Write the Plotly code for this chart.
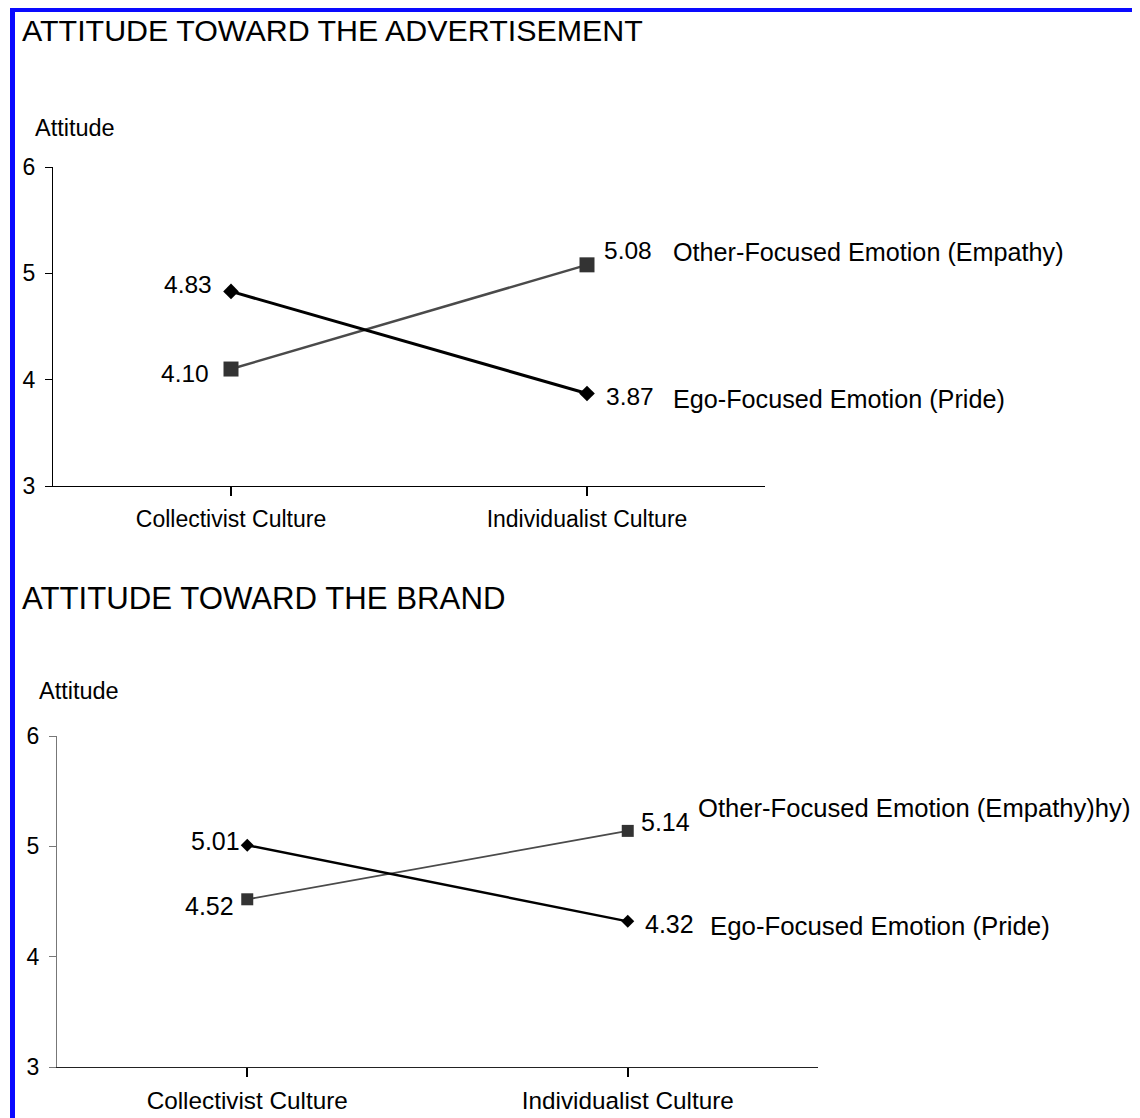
import plotly.graph_objects as go

# ---------------- data ----------------
categories = ["Collectivist Culture", "Individualist Culture"]
ad_other = [4.10, 5.08]     # Other-Focused Emotion (Empathy)
ad_ego = [4.83, 3.87]       # Ego-Focused Emotion (Pride)
brand_other = [4.52, 5.14]
brand_ego = [5.01, 4.32]
ad_other_name = "Other-Focused Emotion (Empathy)"
ad_ego_name = "Ego-Focused Emotion (Pride)"
brand_other_name = "Other-Focused Emotion (Empathy)hy)"
brand_ego_name = "Ego-Focused Emotion (Pride)"
titles = ["ATTITUDE TOWARD THE ADVERTISEMENT", "ATTITUDE TOWARD THE BRAND"]
y_title = "Attitude"
y_ticks = [3, 4, 5, 6]

W, H = 1140, 1118
OFF = 8  # page body margin
FONT = "Liberation Sans, Arial, sans-serif"
xs = list(range(len(categories)))

def px(x):
    return (x - OFF) / W

def py(y):
    return 1 - (y - OFF) / H

fig = go.Figure()

fig.add_trace(go.Scatter(x=xs, y=ad_other, mode="lines+markers", xaxis="x", yaxis="y",
                         line=dict(color="#4a4a4a", width=2.5),
                         marker=dict(symbol="square", size=15, color="#333333"),
                         showlegend=False, hoverinfo="skip"))
fig.add_trace(go.Scatter(x=xs, y=ad_ego, mode="lines+markers", xaxis="x", yaxis="y",
                         line=dict(color="black", width=3),
                         marker=dict(symbol="diamond", size=12, color="black"),
                         showlegend=False, hoverinfo="skip"))
fig.add_trace(go.Scatter(x=xs, y=brand_other, mode="lines+markers", xaxis="x2", yaxis="y2",
                         line=dict(color="#4a4a4a", width=1.8),
                         marker=dict(symbol="square", size=12, color="#333333"),
                         showlegend=False, hoverinfo="skip"))
fig.add_trace(go.Scatter(x=xs, y=brand_ego, mode="lines+markers", xaxis="x2", yaxis="y2",
                         line=dict(color="black", width=2.5),
                         marker=dict(symbol="diamond", size=10, color="black"),
                         showlegend=False, hoverinfo="skip"))

annotations = []

def lab(text, x, y, xa, ya, xshift, yshift, size=25):
    annotations.append(dict(text=text, x=x, y=y, xref=xa, yref=ya, showarrow=False,
                            xanchor="left" if xshift > 0 else "right", yanchor="middle",
                            xshift=xshift, yshift=yshift,
                            font=dict(family=FONT, size=size, color="black")))

# top panel labels
lab(f"{ad_ego[0]:.2f}", xs[0], ad_ego[0], "x", "y", -17, 7, 24.5)
lab(f"{ad_other[0]:.2f}", xs[0], ad_other[0], "x", "y", -20, -4, 24.5)
lab(f"{ad_other[1]:.2f}", xs[1], ad_other[1], "x", "y", 15, 14, 24.5)
lab(ad_other_name, xs[1], ad_other[1], "x", "y", 84, 13, 25.2)
lab(f"{ad_ego[1]:.2f}", xs[1], ad_ego[1], "x", "y", 17, -3, 24.5)
lab(ad_ego_name, xs[1], ad_ego[1], "x", "y", 84, -6, 25.2)

# bottom panel labels
lab(f"{brand_ego[0]:.2f}", xs[0], brand_ego[0], "x2", "y2", -5, 4, 25)
lab(f"{brand_other[0]:.2f}", xs[0], brand_other[0], "x2", "y2", -11, -7, 25)
lab(f"{brand_other[1]:.2f}", xs[1], brand_other[1], "x2", "y2", 11, 9, 25)
lab(brand_other_name, xs[1], brand_other[1], "x2", "y2", 68, 23, 25.6)
lab(f"{brand_ego[1]:.2f}", xs[1], brand_ego[1], "x2", "y2", 15, -3, 25)
lab(brand_ego_name, xs[1], brand_ego[1], "x2", "y2", 80, -5, 25.8)

# titles and y titles
for t, ypix, sz in zip(titles, [30, 598], [30.4, 31.2]):
    annotations.append(dict(text=t, x=px(20), y=py(ypix), xref="paper", yref="paper",
                            xanchor="left", yanchor="middle", showarrow=False,
                            font=dict(family=FONT, size=sz, color="black")))
for xpix, ypix in [(33, 128), (37, 691)]:
    annotations.append(dict(text=y_title, x=px(xpix), y=py(ypix), xref="paper", yref="paper",
                            xanchor="left", yanchor="middle", showarrow=False,
                            font=dict(family=FONT, size=23.5, color="black")))

def xaxis_cfg(domain, anchor, linecolor, fsize):
    return dict(domain=domain, anchor=anchor, range=[-0.5, 1.5], tickmode="array",
                tickvals=xs, ticktext=categories, showgrid=False, zeroline=False,
                showline=True, linecolor=linecolor, linewidth=1.3, automargin=False,
                ticks="outside", ticklen=9, tickwidth=2, tickcolor="black",
                ticklabelstandoff=3,
                tickfont=dict(family=FONT, size=fsize, color="black"), fixedrange=True)

def xaxis_cross(overlay, anchor):
    return dict(overlaying=overlay, anchor=anchor, range=[-0.5, 1.5], tickmode="array",
                tickvals=xs, showticklabels=False, showgrid=False, zeroline=False,
                automargin=False, showline=False, ticks="inside", ticklen=16,
                tickwidth=2, tickcolor="black")

def yaxis_cfg(domain, anchor, linecolor):
    return dict(domain=domain, anchor=anchor, range=[3, 6], tickmode="array",
                tickvals=y_ticks, showgrid=False, zeroline=False, showline=True,
                linecolor=linecolor, linewidth=1.3, ticks="outside", ticklen=7,
                tickwidth=1, tickcolor=linecolor, ticklabelstandoff=5, automargin=False,
                tickfont=dict(family=FONT, size=23, color="black"), fixedrange=True)

fig.update_layout(
    width=W, height=H, margin=dict(l=0, r=0, t=0, b=0, autoexpand=False),
    paper_bgcolor="white", plot_bgcolor="white", showlegend=False,
    xaxis=xaxis_cfg([px(53), px(765)], "y", "black", 23),
    yaxis=yaxis_cfg([py(486), py(167)], "x", "black"),
    xaxis2=xaxis_cfg([px(57), px(818)], "y2", "#222222", 24.3),
    yaxis2=yaxis_cfg([py(1067), py(736)], "x2", "#777777"),
    xaxis3=xaxis_cross("x", "y"),
    xaxis4=xaxis_cross("x2", "y2"),
    annotations=annotations,
    shapes=[
        dict(type="line", xref="paper", yref="paper", x0=px(12.5), x1=px(12.5),
             y0=py(7), y1=0, line=dict(color="#0a0aff", width=5)),
        dict(type="line", xref="paper", yref="paper", x0=px(10), x1=1,
             y0=py(9.5), y1=py(9.5), line=dict(color="#0a0aff", width=5)),
    ],
)

fig.write_html("out.html")
